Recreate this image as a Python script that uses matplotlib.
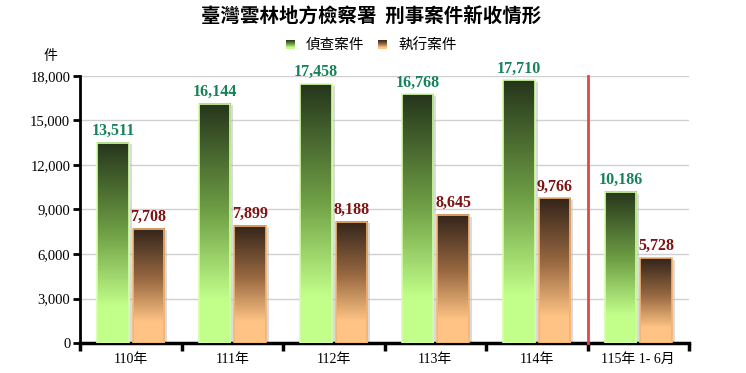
import matplotlib.pyplot as plt
import numpy as np
from matplotlib.colors import to_rgb
from matplotlib.patches import Rectangle
from matplotlib.ticker import FuncFormatter

categories = ["110年", "111年", "112年", "113年", "114年", "115年 1- 6月"]
investigation = [13511, 16144, 17458, 16768, 17710, 10186]
execution = [7708, 7899, 8188, 8645, 9766, 5728]
series_names = ["偵查案件", "執行案件"]

CJK = "Noto Sans CJK TC"
SERIF = "Liberation Serif"

green_stops = ["#25351b", "#6f9f45", "#c2ff8a", "#c2ff8a"]
brown_stops = ["#33241a", "#9a6a42", "#ffc485", "#ffc485"]
stop_pos = [0.0, 0.45, 0.82, 1.0]


def gradient(stops, n=256):
    t = np.linspace(0, 1, n)
    rgb = np.array([to_rgb(c) for c in stops])
    cols = np.stack([np.interp(t, stop_pos, rgb[:, k]) for k in range(3)], axis=-1)
    return cols[:, None, :]


def draw_bar(ax, x0, w, h, stops, edge):
    # soft shadow
    ax.add_patch(Rectangle((x0 + 0.03, 0), w, h - 120, color="#b8b8b8", alpha=0.5, zorder=2, lw=0))
    ax.imshow(gradient(stops), extent=(x0, x0 + w, 0, h), origin="upper",
              aspect="auto", zorder=3, interpolation="bilinear")
    ax.add_patch(Rectangle((x0, 0), w, h, fill=False, edgecolor=edge, lw=1.2, zorder=4))


fig = plt.figure(figsize=(7.46, 3.73), dpi=100)
ax = fig.add_axes([80 / 746, 1 - 343 / 373, 609 / 746, 267 / 373])

w = 0.31
x = np.arange(len(categories))
for i in range(len(categories)):
    g0 = x[i] - 0.33
    b0 = x[i] + 0.02
    draw_bar(ax, g0, w, investigation[i], green_stops, "#d4ffa6")
    draw_bar(ax, b0, w, execution[i], brown_stops, "#f2b472")
    ax.text(g0 + w / 2, investigation[i] + 250, f"{investigation[i]:,}", ha="center", va="bottom",
            color="#16825a", fontsize=11.5, fontweight="bold", family=SERIF, zorder=5)
    ax.text(b0 + w / 2, execution[i] + 250, f"{execution[i]:,}", ha="center", va="bottom",
            color="#7d1414", fontsize=11.5, fontweight="bold", family=SERIF, zorder=5)

ax.set_xlim(-0.5, len(categories) - 0.5)
ax.set_ylim(0, 18000)
ax.set_yticks(np.arange(0, 18001, 3000))
ax.yaxis.set_major_formatter(FuncFormatter(lambda v, p: f"{int(v):,}"))
ax.grid(axis="y", color="#d0d0d0", lw=1, zorder=0)
ax.set_axisbelow(True)

ax.set_xticks(np.arange(-0.5, len(categories), 1.0))
ax.set_xticklabels([])
ax.set_xticks(x, minor=True)
ax.set_xticklabels(categories, minor=True, family=[SERIF, CJK], fontsize=10)
ax.tick_params(axis="x", which="major", length=6, width=2.5, direction="out")
ax.tick_params(axis="x", which="minor", length=0, pad=7)
ax.tick_params(axis="y", length=5, width=2, labelsize=10.5, pad=2)
for lab in ax.get_yticklabels():
    lab.set_family(SERIF)

for s in ["top", "right"]:
    ax.spines[s].set_visible(False)
ax.spines["left"].set_linewidth(2)
ax.spines["bottom"].set_linewidth(2.5)

ax.plot([4.5, 4.5], [0, 18000], color="#e04848", lw=2, zorder=6, clip_on=False)

fig.text(371 / 746, 1 - 16 / 373, "臺灣雲林地方檢察署  刑事案件新收情形", ha="center", va="center",
         fontsize=14, fontweight="bold", family=CJK)
fig.text(50 / 746, 1 - 56 / 373, "件", ha="center", va="center", fontsize=10, family=CJK)

# legend
for xs, name, stops in [(286, series_names[0], green_stops), (378, series_names[1], brown_stops)]:
    lax = fig.add_axes([xs / 746, 1 - 49 / 373, 9 / 746, 9 / 373])
    lax.imshow(gradient(stops), aspect="auto", interpolation="bilinear")
    lax.axis("off")
    fig.text((xs + 20) / 746, 1 - 45 / 373, name, ha="left", va="center", fontsize=10.5, family=CJK)

fig.savefig("out.png", dpi=100)
